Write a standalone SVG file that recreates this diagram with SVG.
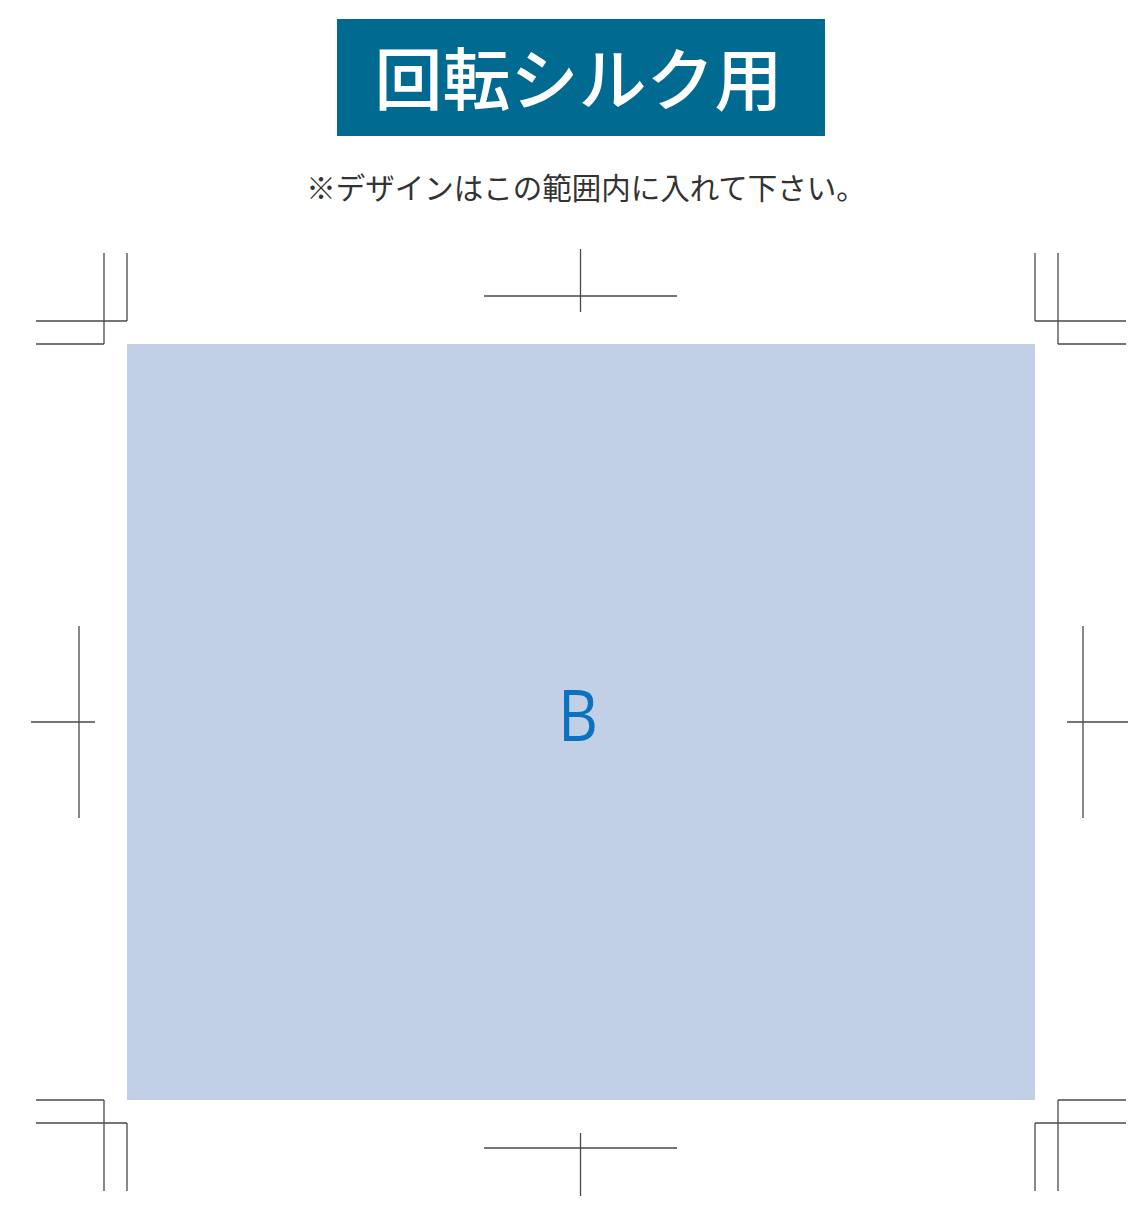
<svg xmlns="http://www.w3.org/2000/svg" width="1128" height="1212" viewBox="0 0 1128 1212">
<style>
.mk{stroke:#4a4a4a;stroke-width:1.3;fill:none}
.ttl{font-family:"Noto Sans CJK JP","Noto Sans",sans-serif;fill:#fff;font-weight:500}
.sub{font-family:"Noto Sans CJK JP","Noto Sans",sans-serif;fill:#333}
</style>
<rect width="1128" height="1212" fill="#fff"/>
<g id="title">
<rect x="337" y="19" width="488" height="117" fill="#006A91"/>
<text class="ttl" x="578.5" y="105" font-size="68" text-anchor="middle">回転シルク用</text>
</g>
<g id="note">
<text class="sub" x="586" y="198.5" font-size="29.5" text-anchor="middle">※デザインはこの範囲内に入れて下さい。</text>
</g>
<g id="area">
<rect x="127" y="344" width="908" height="756" fill="#C1D0E7"/>
<text x="558" y="741" font-family="'Open Sans','Noto Sans',sans-serif" font-size="72" fill="#0B72C0" textLength="40" lengthAdjust="spacingAndGlyphs">B</text>
</g>
<g id="marks" class="mk">
<path d="M104 253V344M127 253V321M36 321H127M36 344H104"/>
<path d="M1058 253V344M1035 253V321M1035 321H1126M1058 344H1126"/>
<path d="M104 1191V1100M127 1191V1123M36 1123H127M36 1100H104"/>
<path d="M1058 1191V1100M1035 1191V1123M1035 1123H1126M1058 1100H1126"/>
<path d="M580.5 249V312M484 296H677"/>
<path d="M580.5 1133V1196M484 1148H677"/>
<path d="M79 626V818M31 722H95"/>
<path d="M1083 626V818M1067 722H1131"/>
</g>
</svg>
